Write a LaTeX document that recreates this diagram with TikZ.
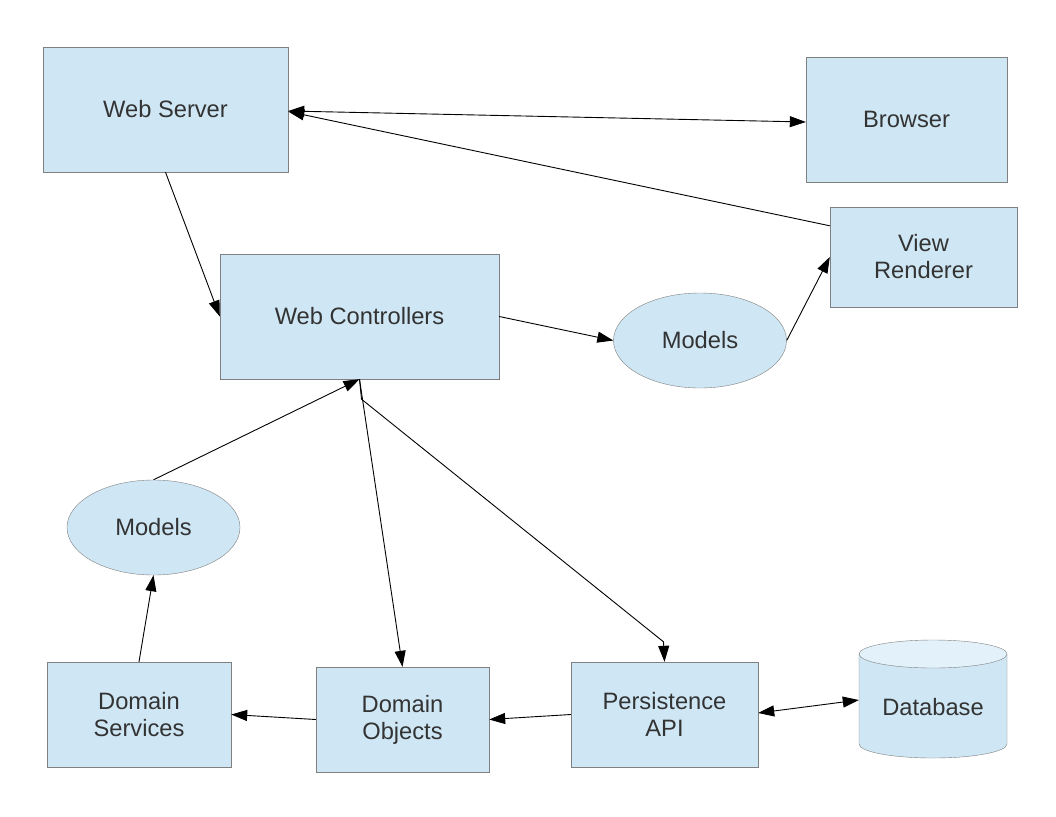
\documentclass[tikz,border=0pt]{standalone}
\usepackage{fontspec}
\setmainfont{Liberation Sans}
\usetikzlibrary{arrows.meta,calc,shapes.geometric}
\definecolor{boxfill}{HTML}{CFE7F5}
\definecolor{toplight}{HTML}{E3F1FA}
\definecolor{border}{HTML}{808080}
\definecolor{txt}{HTML}{333333}
\begin{document}
\begin{tikzpicture}[x=1pt,y=-1pt,
  box/.style={draw=border,fill=boxfill,inner sep=0pt,align=center,text=txt,
    font=\fontsize{23.7}{27}\selectfont},
  oval/.style={ellipse,draw=border,fill=boxfill,inner sep=0pt,text=txt,
    font=\fontsize{23.7}{27}\selectfont},
  conn/.style={draw=black,line width=0.9pt,-{Triangle[length=16,width=11]}},
  bconn/.style={draw=black,line width=0.9pt,{Triangle[length=16,width=11]}-{Triangle[length=16,width=11]}}]
\useasboundingbox (0,0) rectangle (1056,816);
\fill[white] (0,0) rectangle (1056,816);
% boxes
\node[box,minimum width=245,minimum height=125] (ws) at (165.5,109.5) {Web Server};
\node[box,minimum width=201,minimum height=125] (br) at (906.5,119.5) {Browser};
\node[box,minimum width=187,minimum height=100] (vr) at (923.5,257) {View\\Renderer};
\node[box,minimum width=279,minimum height=125] (wc) at (359.5,316.5) {Web Controllers};
\node[oval,minimum width=173,minimum height=95] (m1) at (700,340.5) {Models};
\node[oval,minimum width=173,minimum height=95] (m2) at (153.5,527.5) {Models};
\node[box,minimum width=184,minimum height=105] (ds) at (139,714.5) {Domain\\Services};
\node[box,minimum width=173,minimum height=105] (do) at (402.5,719.5) {Domain\\Objects};
\node[box,minimum width=187,minimum height=105] (pa) at (664.5,714.5) {Persistence\\API};
% database cylinder
\path[draw=border,fill=boxfill] (859,654) -- (859,744)
  arc[start angle=180,end angle=0,x radius=74,y radius=14] -- (1007,654) -- cycle;
\path[draw=border,fill=toplight] (933,654) ellipse[x radius=74,y radius=14];
\node[inner sep=0pt,minimum width=148,minimum height=20,text=txt,
  font=\fontsize{23.7}{27}\selectfont] (db) at (933,707) {Database};
% connectors
\draw[bconn] ([yshift=-1.5pt]ws.east) -- ([yshift=-2.5pt]br.west);
\draw[conn] ([yshift=-19pt]vr.north west) -- ([yshift=-2pt]ws.east);
\draw[conn] (ws.south) -- (wc.west);
\draw[conn] (wc.east) -- (m1.west);
\draw[conn] (m1.east) -- (vr.west);
\draw[conn] (m2.north) -- (wc.south);
\draw[conn] (wc.south) -- (do.north);
\draw[conn] (wc.south) -- ++(2,20) -- ($(pa.north)+(-1,-20)$) -- (pa.north);
\draw[conn] (ds.north) -- (m2.south);
\draw[conn] (do.west) -- (ds.east);
\draw[conn] (pa.west) -- (do.east);
\draw[bconn] ([yshift=1.5pt]pa.east) -- ([yshift=7pt]db.west);
\end{tikzpicture}
\end{document}
